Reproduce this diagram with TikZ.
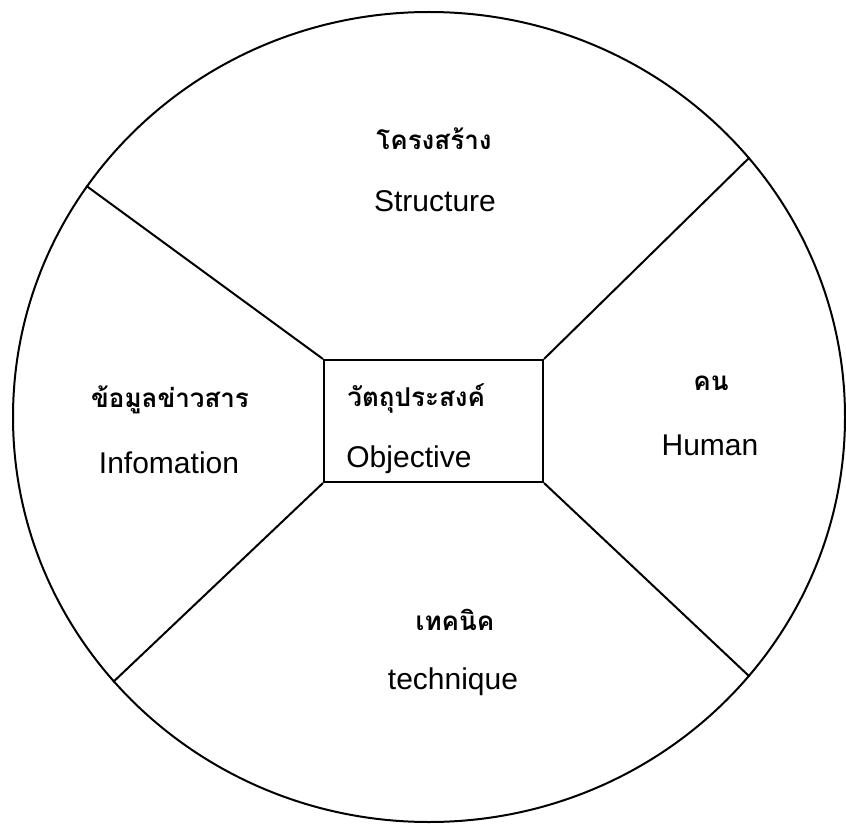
\documentclass[tikz,border=0pt]{standalone}
\usepackage{fontspec}
\newfontfamily\engfont{Liberation Sans}
\newfontfamily\thaifont[Script=Thai]{Loma}
\usetikzlibrary{shapes.geometric}
\tikzset{
  thai/.style={font=\thaifont\bfseries\fontsize{13}{16}\selectfont, inner sep=0pt},
  eng/.style={font=\engfont\fontsize{15}{18}\selectfont, inner sep=0pt},
  spoke/.style={line width=1pt}
}

\begin{document}
\begin{tikzpicture}[x=0.5pt, y=-0.5pt]
  \useasboundingbox (0,0) rectangle (846,824);
  \node[draw, ellipse, line width=1pt, minimum width=416pt, minimum height=405pt, inner sep=0pt] (wheel) at (429,417) {};
  \node[draw, rectangle, line width=1pt, minimum width=109.5pt, minimum height=61pt, inner sep=0pt] (core) at (433.5,421) {};
  % spokes
  \draw[spoke] (core.north west) -- (wheel.146.3);
  \draw[spoke] (core.north east) -- (wheel.39.5);
  \draw[spoke] (core.south west) -- (wheel.220.1);
  \draw[spoke] (core.south east) -- (wheel.321.6);
  % labels
  \node[thai, anchor=west] (coreth) at (347,398) {วัตถุประสงค์};
  \node[eng, anchor=west] (coreen) at (346,460) {Objective};
  \node[thai] (structth) at (434,139) {โครงสร้าง};
  \node[eng] (structen) at (435,201) {Structure};
  \node[thai] (infoth) at (170,400) {ข้อมูลข่าวสาร};
  \node[eng] (infoen) at (169,463) {Infomation};
  \node[thai] (humanth) at (711,383) {คน};
  \node[eng] (humanen) at (710,445) {Human};
  \node[thai] (techth) at (455,620) {เทคนิค};
  \node[eng] (techen) at (453,682) {technique};
\end{tikzpicture}
\end{document}
